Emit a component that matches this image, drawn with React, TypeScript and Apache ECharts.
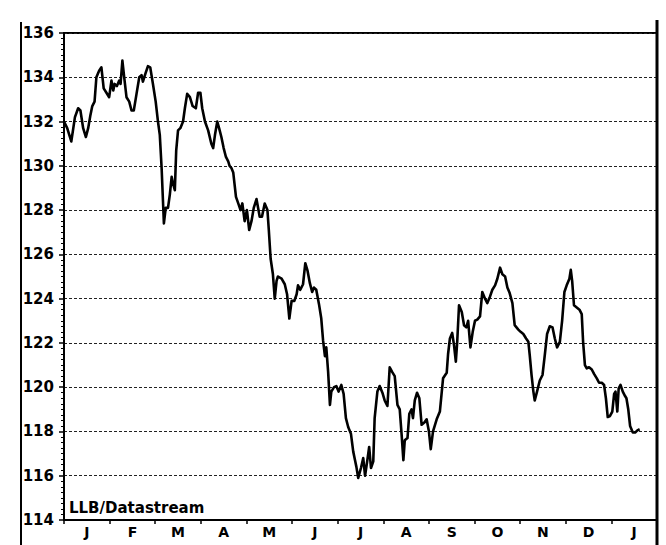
import React, { useEffect, useRef } from "react";
import * as echarts from "echarts";

const months = ["J", "F", "M", "A", "M", "J", "J", "A", "S", "O", "N", "D", "J"];
const yTicks = { min: 114, max: 136, step: 2 };
const sourceNote = "LLB/Datastream";

// [position in months from start of January, index level]
const points: [number, number][] = [
  [0, 132.0], [0.07, 131.7], [0.16, 131.1], [0.24, 132.2], [0.31, 132.6], [0.36, 132.5], [0.42, 131.7], [0.48, 131.3],
  [0.53, 131.7], [0.58, 132.3], [0.62, 132.7], [0.67, 132.9], [0.71, 134.0], [0.77, 134.3], [0.82, 134.45], [0.87, 133.5],
  [0.93, 133.3], [0.99, 133.1], [1.04, 133.85], [1.08, 133.4], [1.11, 133.7], [1.16, 133.6], [1.21, 133.85], [1.24, 133.7],
  [1.28, 134.75], [1.32, 134.0], [1.37, 133.1], [1.43, 132.9], [1.48, 132.5], [1.53, 132.5], [1.59, 133.25], [1.65, 134.0],
  [1.70, 134.1], [1.73, 133.8], [1.79, 134.2], [1.84, 134.5], [1.89, 134.45], [1.95, 133.7], [2.01, 132.9], [2.06, 132.0],
  [2.10, 131.4], [2.14, 129.9], [2.17, 128.4], [2.19, 127.4], [2.23, 128.1], [2.28, 128.1], [2.32, 128.7], [2.36, 129.5],
  [2.39, 129.2], [2.43, 128.9], [2.46, 130.7], [2.50, 131.6], [2.55, 131.7], [2.61, 132.0], [2.65, 132.6], [2.70, 133.25],
  [2.76, 133.1], [2.82, 132.7], [2.89, 132.6], [2.94, 133.3], [2.99, 133.3], [3.03, 132.6], [3.09, 132.0], [3.16, 131.6],
  [3.23, 131.0], [3.27, 130.8], [3.31, 131.4], [3.36, 132.0], [3.40, 131.7], [3.45, 131.3], [3.50, 130.8], [3.55, 130.4],
  [3.60, 130.2], [3.63, 130.0], [3.67, 129.9], [3.71, 129.7], [3.77, 128.6], [3.82, 128.3], [3.87, 128.0], [3.91, 128.3],
  [3.96, 127.5], [4.01, 128.0], [4.06, 127.1], [4.11, 127.5], [4.16, 128.1], [4.22, 128.5], [4.29, 127.7], [4.34, 127.7],
  [4.40, 128.3], [4.46, 128.0], [4.49, 127.1], [4.53, 125.8], [4.58, 125.1], [4.62, 124.0], [4.66, 124.8], [4.69, 125.0],
  [4.77, 124.9], [4.84, 124.65], [4.89, 124.2], [4.94, 123.1], [4.99, 123.9], [5.05, 123.9], [5.10, 124.2], [5.13, 124.6],
  [5.18, 124.4], [5.24, 124.65], [5.29, 125.6], [5.34, 125.25], [5.39, 124.7], [5.44, 124.3], [5.48, 124.5], [5.53, 124.4],
  [5.59, 123.75], [5.64, 123.1], [5.68, 122.1], [5.72, 121.4], [5.75, 121.8], [5.79, 120.7], [5.83, 119.2], [5.86, 119.8],
  [5.92, 120.0], [5.97, 120.05], [6.02, 119.8], [6.08, 120.1], [6.13, 119.7], [6.18, 118.6], [6.23, 118.2], [6.29, 117.9],
  [6.34, 117.1], [6.38, 116.7], [6.41, 116.4], [6.45, 115.9], [6.51, 116.35], [6.56, 116.8], [6.60, 116.0], [6.65, 116.7],
  [6.69, 117.3], [6.73, 116.35], [6.78, 116.65], [6.81, 118.6], [6.87, 119.8], [6.92, 120.05], [6.98, 119.75], [7.03, 119.4],
  [7.09, 119.15], [7.14, 120.9], [7.19, 120.7], [7.25, 120.5], [7.31, 119.2], [7.36, 119.0], [7.40, 117.9], [7.44, 116.7],
  [7.47, 117.6], [7.53, 117.7], [7.57, 118.8], [7.62, 119.0], [7.65, 118.6], [7.69, 119.4], [7.74, 119.75], [7.79, 119.5],
  [7.84, 118.3], [7.90, 118.4], [7.95, 118.55], [8.00, 118.0], [8.04, 117.2], [8.09, 118.0], [8.17, 118.55], [8.24, 118.9],
  [8.31, 120.4], [8.39, 120.65], [8.42, 121.5], [8.46, 122.2], [8.51, 122.45], [8.55, 121.9], [8.59, 121.15], [8.62, 122.05],
  [8.66, 123.7], [8.72, 123.4], [8.77, 122.8], [8.82, 122.7], [8.86, 123.0], [8.91, 121.8], [8.96, 122.5], [9.01, 123.0],
  [9.06, 123.05], [9.12, 123.2], [9.17, 124.3], [9.23, 124.0], [9.28, 123.8], [9.34, 124.1], [9.39, 124.4], [9.45, 124.6],
  [9.50, 124.9], [9.56, 125.4], [9.61, 125.1], [9.67, 125.0], [9.72, 124.5], [9.77, 124.25], [9.83, 123.8], [9.88, 122.8],
  [9.96, 122.6], [10.01, 122.5], [10.07, 122.4], [10.13, 122.2], [10.18, 122.05], [10.21, 121.45], [10.25, 120.55], [10.29, 119.8],
  [10.32, 119.4], [10.37, 119.8], [10.43, 120.3], [10.49, 120.55], [10.54, 121.45], [10.59, 122.4], [10.65, 122.75], [10.71, 122.7],
  [10.76, 122.2], [10.81, 121.8], [10.87, 122.05], [10.92, 123.0], [10.97, 124.3], [11.02, 124.6], [11.08, 124.9], [11.11, 125.3],
  [11.14, 124.8], [11.18, 123.7], [11.24, 123.6], [11.30, 123.5], [11.35, 123.3], [11.38, 122.05], [11.42, 121.0], [11.46, 120.85],
  [11.51, 120.9], [11.57, 120.8], [11.62, 120.6], [11.68, 120.4], [11.73, 120.2], [11.79, 120.2], [11.84, 120.1], [11.88, 119.5],
  [11.92, 118.65], [11.97, 118.7], [12.02, 118.9], [12.06, 119.7], [12.09, 119.8], [12.13, 118.9], [12.16, 119.95], [12.20, 120.1],
  [12.25, 119.8], [12.30, 119.6], [12.33, 119.5], [12.37, 119.0], [12.41, 118.25], [12.47, 117.95], [12.52, 117.95], [12.57, 118.05],
  [12.62, 118.1],
];

const FONT = "DejaVu Sans";

export default function App() {
  const ref = useRef<HTMLDivElement>(null);
  useEffect(() => {
    if (!ref.current) return;
    const chart = echarts.init(ref.current, undefined, { renderer: "svg" });
    chart.setOption({
      animation: false,
      backgroundColor: "#fff",
      grid: {
        left: 64,
        right: 9,
        top: 33,
        bottom: 25,
        show: true,
        borderColor: "#000",
        borderWidth: 2,
        backgroundColor: "transparent",
      },
      xAxis: [
        {
          type: "category",
          data: months,
          boundaryGap: true,
          axisLine: { lineStyle: { color: "#000", width: 2 } },
          axisTick: { show: true, length: 4, lineStyle: { color: "#000", width: 1.5 } },
          axisLabel: {
            color: "#000",
            fontFamily: FONT,
            fontWeight: "bold",
            fontSize: 14,
            margin: 5,
          },
          splitLine: { show: false },
        },
        {
          type: "value",
          min: 0,
          max: months.length,
          show: false,
        },
      ],
      yAxis: {
        type: "value",
        min: yTicks.min,
        max: yTicks.max,
        interval: yTicks.step,
        axisLine: { show: true, lineStyle: { color: "#000", width: 2 } },
        axisTick: { show: true, length: 5, lineStyle: { color: "#000", width: 1.5 } },
        minorTick: { show: true, splitNumber: 8, length: 3, lineStyle: { color: "#000", width: 1 } },
        axisLabel: {
          color: "#000",
          fontFamily: FONT,
          fontWeight: "bold",
          fontSize: 15,
          margin: 10,
        },
        splitLine: {
          show: true,
          lineStyle: { color: "#222", width: 1, type: [3, 2] },
        },
      },
      series: [
        {
          type: "line",
          xAxisIndex: 1,
          data: points,
          showSymbol: false,
          symbol: "none",
          lineStyle: { color: "#000", width: 2.6, join: "round" },
        },
      ],
      graphic: [
        {
          type: "line",
          shape: { x1: 21, y1: 22, x2: 21, y2: 545 },
          style: { stroke: "#000", lineWidth: 2 },
          z: 100,
        },
        {
          type: "line",
          shape: { x1: 657, y1: 20, x2: 657, y2: 545 },
          style: { stroke: "#000", lineWidth: 3 },
          z: 100,
        },
        {
          type: "text",
          x: 69,
          y: 508,
          style: {
            text: sourceNote,
            fill: "#000",
            font: `bold 15px "${FONT}"`,
            verticalAlign: "middle",
          },
          z: 100,
        },
      ],
    });
    return () => chart.dispose();
  }, []);
  return (
    <div
      ref={ref}
      style={{ position: "fixed", left: 0, top: 0, width: 666, height: 545, background: "#fff" }}
    />
  );
}
